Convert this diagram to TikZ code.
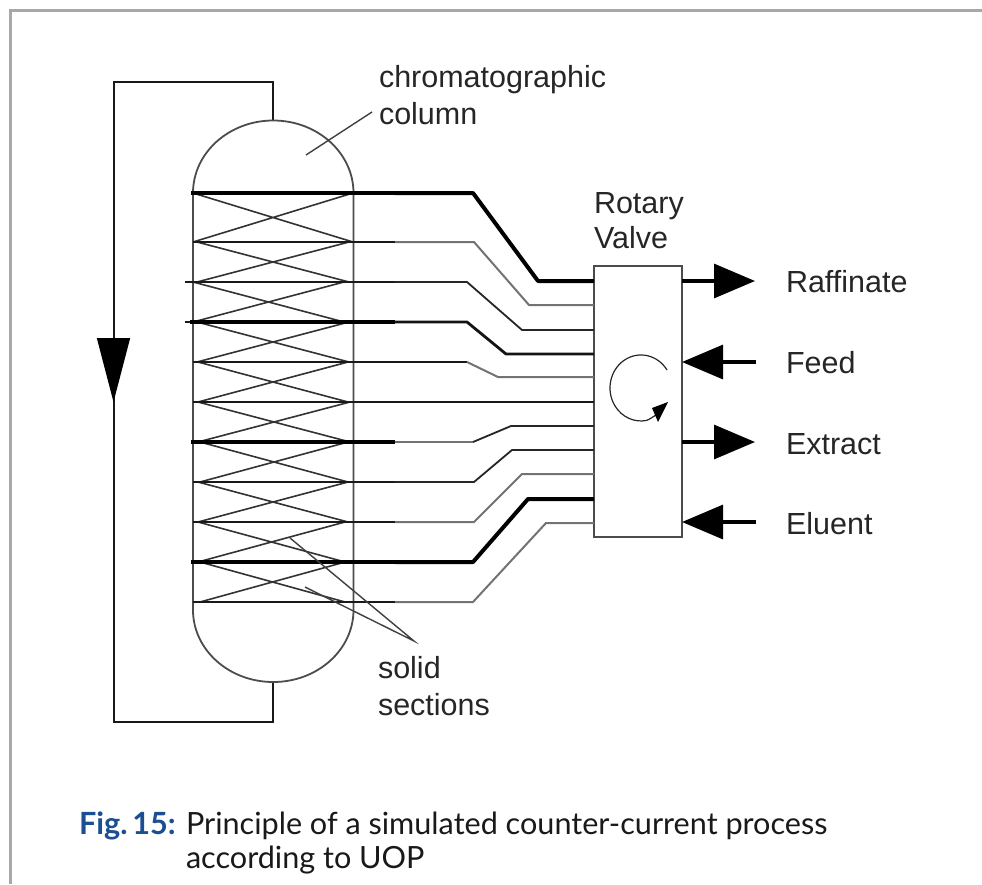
\documentclass[tikz,border=0pt]{standalone}
\usepackage{fontspec}
\setmainfont{Liberation Sans}
\newfontfamily\capfont{Lato}
\usetikzlibrary{arrows.meta}
\definecolor{framegray}{HTML}{A8A8A8}
\definecolor{capblue}{HTML}{1B4F91}
\tikzset{
  x=1pt,y=-1pt,
  outline/.style={line width=2pt,black!90,line join=miter},
  crossline/.style={line width=1.6pt,black!80},
  rowthick/.style={line width=4.2pt,black},
  rowthin/.style={line width=2pt,black!90},
  pipedark/.style={line width=1.8pt,black!85,line join=round},
  pipegray/.style={line width=2pt,black!55,line join=round},
  pipethick/.style={line width=4pt,black,line join=round},
  pipemid/.style={line width=2.8pt,black!92,line join=round},
  leader/.style={line width=1.4pt,black!75},
  flowarrow/.style={line width=3.2pt,black,-{Triangle[length=41pt,width=34pt]}},
  lbl/.style={anchor=base west,inner sep=0pt,outer sep=0pt,font=\fontsize{30.5}{37}\selectfont,text=black!85},
  lblm/.style={lbl,align=left},
  captext/.style={anchor=base west,inner sep=0pt,outer sep=0pt,font=\capfont\fontsize{30.6}{34}\selectfont,text=black!90},
}
\begin{document}
\begin{tikzpicture}
\useasboundingbox (0,0) rectangle (982,884);
\fill[white] (0,0) rectangle (982,884);
% frame
\draw[framegray,line width=3pt] (982,10.5) -- (10.5,10.5) -- (10.5,884);

% named points
\coordinate (domeT) at (272.5,120.5);
\coordinate (domeB) at (272.5,682);
\coordinate (recycT) at (272.5,82);
\coordinate (recycB) at (272.5,722);
\coordinate (recycTL) at (113.5,82);
\coordinate (recycBL) at (113.5,722);

% recycle loop
\draw[outline] (domeT) -- (recycT) -- (recycTL) -- (recycBL) -- (recycB) -- (domeB);
\draw[line width=1.5pt,-{Triangle[length=64pt,width=33pt]}] (113.5,338) -- (113.5,402);

% column
\draw[line width=1.8pt,black!70] (193,193) arc[start angle=180,end angle=360,x radius=80.25,y radius=72.5]
  -- (353.5,610) arc[start angle=0,end angle=180,x radius=80.25,y radius=72]
  -- cycle;

% packing crosses
\foreach \ya/\yb/\xl/\xr in {193/242/193/353,242/282/197/349,282/322/193/344,322/362/197/349,362/402/198/348,402/442/198/350,442/482/200/348,482/522/198/348,522/562/198/345,562/602/200/345}
  \draw[crossline] (\xl,\ya) -- (\xr,\yb) (\xl,\yb) -- (\xr,\ya);

% valve
\node[draw=black!70,line width=2pt,minimum width=88pt,minimum height=271pt,inner sep=0pt,outer sep=0pt,anchor=north west] (valve) at (594,266) {};

% bed rows (column part)
\draw[rowthick] (191,193) -- (395,193);
\draw[rowthin]  (193,242) -- (395,242);
\draw[rowthin]  (185,282) -- (395,282);
\draw[rowthin]  (185,322) -- (192,322);
\draw[rowthick] (190,322) -- (395,322);
\draw[rowthin]  (193,362) -- (467,362);
\draw[rowthin]  (193,402) -- (valve.west |- 0,402);
\draw[rowthick] (191,442) -- (395,442);
\draw[rowthin]  (193,482) -- (395,482);
\draw[rowthin]  (193,522) -- (395,522);
\draw[rowthick] (191,562) -- (395,562);
\draw[rowthin]  (193,602) -- (395,602);

% pipes to the valve
\draw[pipethick] (395,193) -- (473,193) -- (538,281) -- (valve.west |- 0,281);
\draw[pipegray]  (395,242) -- (474,242) -- (529,305) -- (valve.west |- 0,305);
\draw[pipedark]  (395,282) -- (467,282) -- (522,330) -- (valve.west |- 0,330);
\draw[pipemid]   (395,322) -- (467,322) -- (506,354) -- (valve.west |- 0,354);
\draw[pipegray]  (467,362) -- (498,377) -- (valve.west |- 0,377);
\draw[pipegray]  (395,442) -- (473,442);
\draw[pipedark]  (473,442) -- (511,426) -- (valve.west |- 0,426);
\draw[pipedark]  (395,482) -- (474,482) -- (512,450) -- (valve.west |- 0,450);
\draw[pipegray]  (395,522) -- (474,522) -- (522,474) -- (valve.west |- 0,474);
\draw[pipethick] (395,562) -- (473,562) -- (528,499) -- (valve.west |- 0,499);
\draw[pipegray]  (395,602) -- (473,602) -- (546,523) -- (valve.west |- 0,523);

% rotation sign
\draw[line width=1.2pt,black!85] (667,370) arc[start angle=-33,end angle=-280,x radius=31,y radius=33] .. controls (648,420) .. (656,415);
\fill[black] (668,402) -- (652,408) -- (658,422) -- cycle;

% streams
\coordinate (rafTip) at (755,281);
\coordinate (feedEnd) at (756,362);
\coordinate (extTip) at (755,442);
\coordinate (eluEnd) at (756,522);
\draw[flowarrow] (valve.east |- rafTip) -- (rafTip);
\draw[flowarrow] (feedEnd) -- (valve.east |- feedEnd);
\draw[flowarrow] (valve.east |- extTip) -- (extTip);
\draw[flowarrow] (eluEnd) -- (valve.east |- eluEnd);

% labels
\node[lblm] (lcol) at (379,124) {chromatographic\\column};
\node[lbl] (lrot) at (594,213) {Rotary};
\node[lbl] (lval) at (594,248) {Valve};
\node[lbl] (lraf) at (786,292) {Raffinate};
\node[lbl] (lfee) at (786,373) {Feed};
\node[lbl] (lext) at (786,454) {Extract};
\node[lbl] (lelu) at (786,534) {Eluent};
\node[lblm] (lsol) at (378,715) {solid\\sections};

% leaders
\coordinate (colA) at (306,155);
\coordinate (colB) at (372,112);
\draw[leader] (colA) -- (colB);
\coordinate (solTip) at (414,641);
\coordinate (solA) at (290,538);
\coordinate (solB) at (305,587);
\draw[leader] (solA) -- (solTip) -- (solB);

% caption
\node[captext,text=capblue,font=\capfont\bfseries\fontsize{30.6}{34}\selectfont] (figno) at (79,834) {Fig.\kern5pt 15:};
\node[captext] (cap1) at (186,834) {Principle of a simulated counter-current process};
\node[captext] (cap2) at (186,868) {according to UOP};
\end{tikzpicture}
\end{document}
